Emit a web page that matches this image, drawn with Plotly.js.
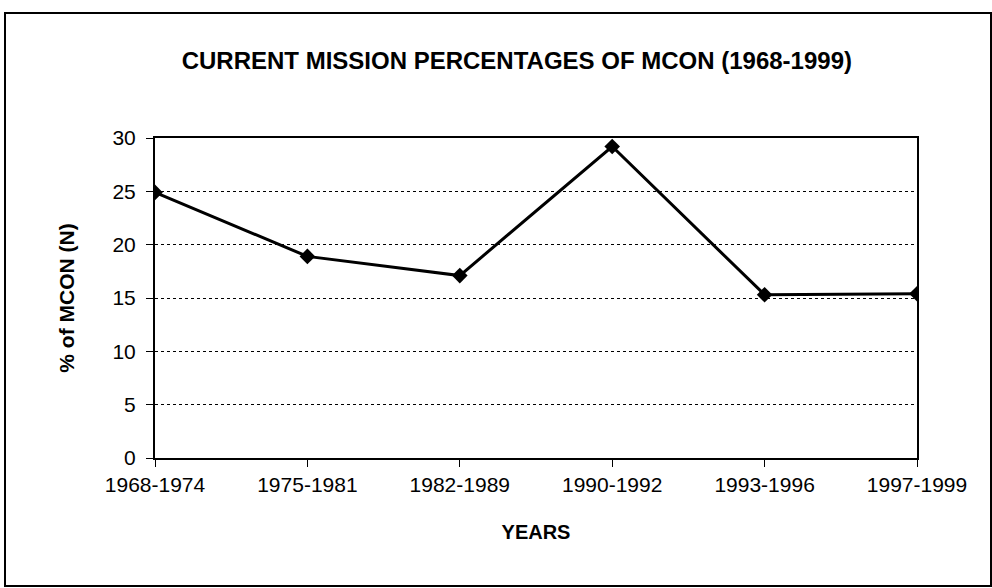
<!DOCTYPE html>
<html>
<head>
<meta charset="utf-8">
<script src="https://cdn.plot.ly/plotly-3.0.1.min.js"></script>
<style>
  html, body { margin: 0; padding: 0; background: #fff; }
  #wrap { position: relative; width: 992px; height: 588px; }
  #chart { width: 992px; height: 588px; }
  #frame { position: absolute; left: 4px; top: 12px; width: 984px; height: 571px;
           border: 2px solid #000; pointer-events: none; }
</style>
</head>
<body>
<div id="wrap">
  <div id="chart"></div>
  <div id="frame"></div>
</div>
<script>
const categories = ["1968-1974", "1975-1981", "1982-1989", "1990-1992", "1993-1996", "1997-1999"];
const percentages = [24.9, 18.9, 17.1, 29.2, 15.3, 15.4];
const yTicks = [0, 5, 10, 15, 20, 25, 30];
const chartTitle = "CURRENT MISSION PERCENTAGES OF MCON (1968-1999)";
const xTitle = "YEARS";
const yTitle = "% of MCON (N)";

const FONT = "Liberation Sans, Arial, Helvetica, sans-serif";

const trace = {
  type: "scatter",
  mode: "lines+markers",
  x: categories,
  y: percentages,
  line: { color: "#000", width: 3 },
  marker: { symbol: "diamond", size: 12, color: "#000" },
  hoverinfo: "x+y"
};

const layout = {
  width: 992,
  height: 588,
  margin: { l: 155, r: 75, t: 138, b: 130 },
  paper_bgcolor: "#fff",
  plot_bgcolor: "#fff",
  showlegend: false,
  font: { family: FONT, color: "#000" },
  title: {
    text: "<b>" + chartTitle + "</b>",
    font: { family: FONT, size: 24, color: "#000" },
    x: 0.521, xref: "container", xanchor: "center",
    y: 1 - 61 / 588, yref: "container", yanchor: "middle"
  },
  xaxis: {
    type: "category",
    range: [0, categories.length - 1],
    showline: true, linecolor: "#000", linewidth: 2, mirror: true,
    ticks: "outside", ticklen: 7, tickwidth: 1, tickcolor: "#000",
    showgrid: false, zeroline: false,
    tickfont: { family: FONT, size: 21, color: "#000" },
    title: { text: "<b>" + xTitle + "</b>", font: { family: FONT, size: 20, color: "#000" }, standoff: 30 }
  },
  yaxis: {
    range: [0, 30],
    tickvals: yTicks,
    showline: true, linecolor: "#000", linewidth: 2, mirror: true,
    ticks: "outside", ticklen: 7, tickwidth: 1, tickcolor: "#000",
    showgrid: true, gridcolor: "#000", gridwidth: 1, griddash: "dot",
    zeroline: false,
    ticklabelstandoff: 6,
    tickfont: { family: FONT, size: 21, color: "#000" },
    title: { text: "<b>" + yTitle + "</b>", font: { family: FONT, size: 21, color: "#000" }, standoff: 32 }
  }
};

Plotly.newPlot("chart", [trace], layout, { displayModeBar: false, staticPlot: true });
</script>
</body>
</html>
